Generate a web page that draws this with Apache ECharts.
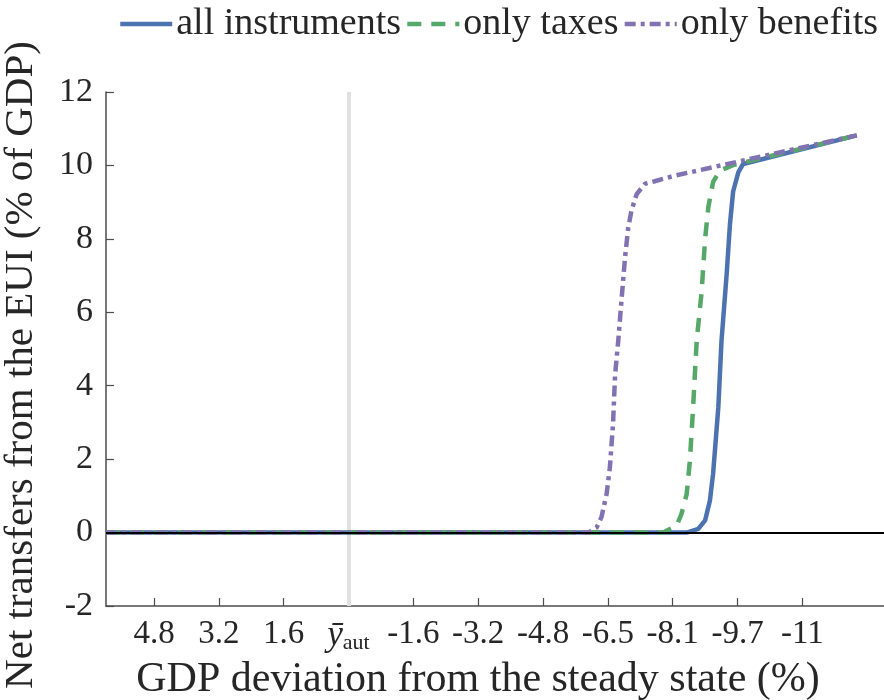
<!DOCTYPE html>
<html>
<head>
<meta charset="utf-8">
<script src="https://cdn.jsdelivr.net/npm/echarts@6/dist/echarts.min.js"></script>
<style>
html,body{margin:0;padding:0;background:#fff;}
#chart{width:884px;height:700px;}
</style>
</head>
<body>
<div id="chart"></div>
<script>
// GDP deviation from steady state (%) tick positions and labels
var xTickValues = [4.86, 3.24, 1.62, 0, -1.62, -3.24, -4.86, -6.48, -8.1, -9.72, -11.34];
var xTickLabels = ['4.8', '3.2', '1.6', 'YBAR', '-1.6', '-3.2', '-4.8', '-6.5', '-8.1', '-9.7', '-11'];
var yAutPosition = 0;

// all instruments
var allX = [6.06, -8.45, -8.74, -8.91, -9.03, -9.11, -9.24, -9.32, -9.45, -9.53, -9.61, -9.74, -9.86, -12.70];
var allY = [0, 0, 0.10, 0.33, 0.87, 1.61, 3.41, 5.23, 7.06, 8.39, 9.29, 9.81, 10.04, 10.82];
// only taxes
var taxX = [6.06, -7.86, -8.20, -8.32, -8.45, -8.53, -8.61, -8.70, -8.82, -8.91, -8.99, -9.11, -9.28, -9.61, -12.70];
var taxY = [0, 0, 0.19, 0.51, 1.05, 1.96, 3.41, 5.23, 6.52, 8.00, 8.86, 9.55, 9.86, 10.01, 10.82];
// only benefits
var benX = [6.06, -5.99, -6.20, -6.32, -6.45, -6.53, -6.61, -6.66, -6.74, -6.82, -6.91, -6.99, -7.07, -7.20, -7.41, -7.65, -8.15, -12.70];
var benY = [0, 0, 0.14, 0.42, 1.06, 1.77, 2.97, 4.28, 5.23, 6.32, 7.50, 8.31, 8.77, 9.22, 9.50, 9.57, 9.72, 10.82];

function pairs(xs, ys) { return xs.map(function (x, i) { return [x, ys[i]]; }); }

var FONT = '"Liberation Serif", "DejaVu Serif", serif';
var TXT = '#262626';
var AX = '#4d4d4d';

var chart = echarts.init(document.getElementById('chart'), null, {renderer: 'canvas'});
chart.setOption({
  animation: false,
  backgroundColor: '#fff',
  textStyle: {fontFamily: FONT, color: TXT},
  legend: {
    top: 0,
    left: 118,
    width: 800,
    padding: [5, 0, 5, 0],
    itemWidth: 52,
    itemHeight: 14,
    itemGap: 4,
    itemStyle: {opacity: 0},
    lineStyle: {width: 4.5},
    textStyle: {fontFamily: FONT, fontSize: 38, color: TXT, padding: [0, 0, 0, -1]},
    data: ['all instruments', 'only taxes', 'only benefits']
  },
  grid: {left: 106, right: 0, top: 92, bottom: 94, containLabel: false, outerBoundsMode: 'none'},
  xAxis: {
    type: 'value',
    inverse: true,
    min: -13.38,
    max: 6.06,
    name: 'GDP deviation from the steady state (%)',
    nameLocation: 'middle',
    nameGap: 46,
    nameTextStyle: {fontFamily: FONT, fontSize: 42, color: TXT, padding: [0, 34, 0, 0]},
    axisLine: {onZero: false, lineStyle: {color: AX, width: 1.5}},
    axisTick: {inside: true, length: 8, customValues: xTickValues, lineStyle: {color: AX, width: 1.2}},
    axisLabel: {
      customValues: xTickValues,
      margin: 12,
      fontFamily: FONT,
      fontSize: 33,
      color: TXT,
      formatter: function (v) {
        var idx = 0, best = 1e9;
        for (var i = 0; i < xTickValues.length; i++) {
          var d = Math.abs(xTickValues[i] - v);
          if (d < best) { best = d; idx = i; }
        }
        var s = xTickLabels[idx];
        if (s === 'YBAR') return '{y|ȳ}{sub|aut}';
        return s;
      },
      rich: {
        y: {fontFamily: FONT, fontStyle: 'italic', fontSize: 35, color: TXT},
        sub: {fontFamily: FONT, fontSize: 22, color: TXT, padding: [14, 0, 0, 0]}
      }
    },
    splitLine: {show: false}
  },
  yAxis: {
    type: 'value',
    min: -2,
    max: 12,
    interval: 2,
    name: 'Net transfers from the EUI (% of GDP)',
    nameLocation: 'middle',
    nameGap: 64,
    nameRotate: 90,
    nameTextStyle: {fontFamily: FONT, fontSize: 41, color: TXT, padding: [0, 32, 0, 0]},
    axisLine: {show: true, onZero: false, lineStyle: {color: AX, width: 1.5}},
    axisTick: {show: true, inside: true, length: 8, lineStyle: {color: AX, width: 1.2}},
    axisLabel: {margin: 13, fontFamily: FONT, fontSize: 34, color: TXT},
    splitLine: {show: false}
  },
  series: [
    {
      name: 'all instruments',
      type: 'line',
      data: pairs(allX, allY),
      symbol: 'none',
      lineStyle: {color: '#4C72B0', width: 4.5},
      itemStyle: {color: '#4C72B0'},
      z: 3,
      markLine: {
        silent: true,
        symbol: 'none',
        label: {show: false},
        lineStyle: {color: '#e0e0e0', width: 4, type: 'solid'},
        data: [{xAxis: yAutPosition}],
        z: 1
      }
    },
    {
      name: 'only taxes',
      type: 'line',
      data: pairs(taxX, taxY),
      symbol: 'none',
      lineStyle: {color: '#55A868', width: 4.5, type: [14, 10]},
      itemStyle: {color: '#55A868'},
      z: 4
    },
    {
      name: 'only benefits',
      type: 'line',
      data: pairs(benX, benY),
      symbol: 'none',
      lineStyle: {color: '#8172B2', width: 4.5, type: [11, 5, 4, 5]},
      itemStyle: {color: '#8172B2'},
      z: 5,
      markLine: {
        silent: true,
        symbol: 'none',
        label: {show: false},
        lineStyle: {color: '#000', width: 2, type: 'solid'},
        data: [{yAxis: 0}],
        z: 10
      }
    }
  ]
});
</script>
</body>
</html>
